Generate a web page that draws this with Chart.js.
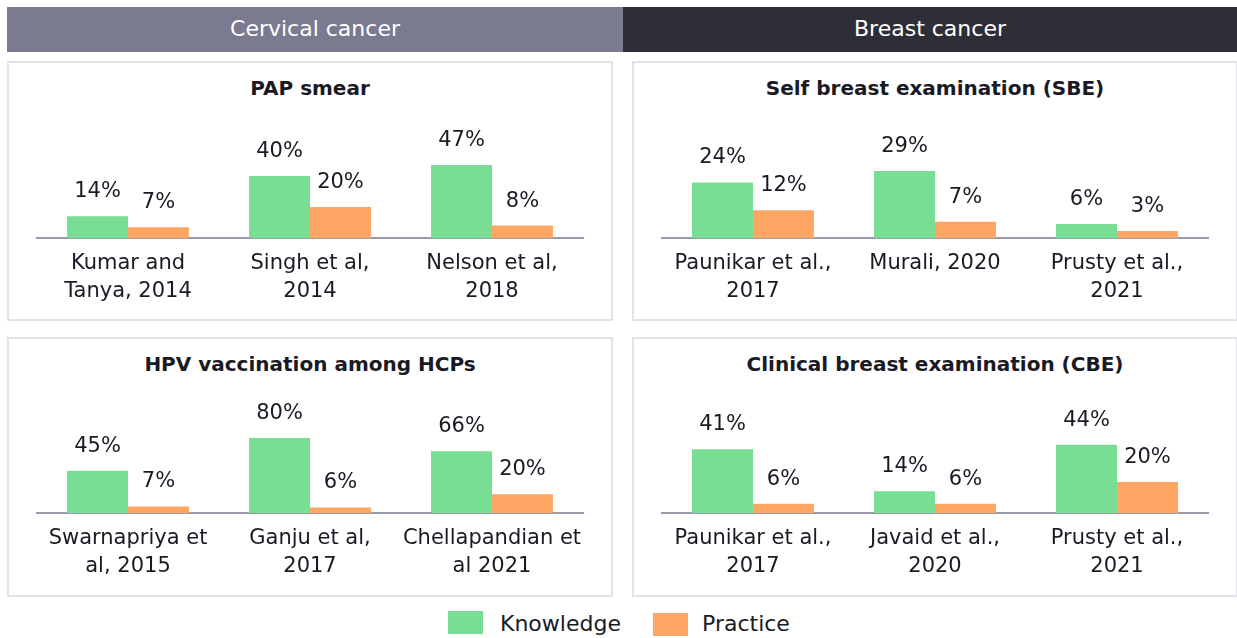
<!DOCTYPE html>
<html>
<head>
<meta charset="utf-8">
<script src="https://cdn.jsdelivr.net/npm/chart.js@4.4.0/dist/chart.umd.min.js"></script>
<style>
    body { margin: 0; width: 1237px; height: 638px; background: #fff; position: relative; overflow: hidden;
           font-family: "DejaVu Sans", sans-serif; color: #1a1a24; }
    .hdr { position: absolute; top: 7px; height: 45px; line-height: 43px; color: #fff; font-size: 22px; text-align: center; }
    .panel { position: absolute; width: 606px; height: 260px; border: 2px solid #e2e2e8; box-sizing: border-box; }
    .ttl { position: absolute; left: 0; right: 0; top: 13px; line-height: 24px; text-align: center; font-weight: bold; font-size: 20px; }
    canvas { position: absolute; }
    .sw { position: absolute; width: 35px; height: 23px; }
    .lg { position: absolute; font-size: 22px; line-height: 26px; }
</style>
</head>
<body>
<div class="hdr" style="left:7px;width:616px;background:#7a7a91;">Cervical cancer</div>
<div class="hdr" style="left:623px;width:614px;background:#2e2e38;">Breast cancer</div>

<div class="panel" style="left:7px;top:61px;"><div class="ttl" id="t0"></div></div>
<div class="panel" style="left:632px;top:61px;"><div class="ttl" id="t1"></div></div>
<div class="panel" style="left:7px;top:337px;"><div class="ttl" id="t2"></div></div>
<div class="panel" style="left:632px;top:337px;"><div class="ttl" id="t3"></div></div>

<canvas id="c0" width="606" height="208" style="left:7px;top:110px;"></canvas>
<canvas id="c1" width="606" height="208" style="left:632px;top:110px;"></canvas>
<canvas id="c2" width="606" height="208" style="left:7px;top:385px;"></canvas>
<canvas id="c3" width="606" height="208" style="left:632px;top:385px;"></canvas>

<div class="sw" style="left:448px;top:611px;background:#78de94;"></div>
<div class="lg" style="left:500px;top:611px;">Knowledge</div>
<div class="sw" style="left:653px;top:613px;background:#ffa664;"></div>
<div class="lg" style="left:702px;top:611px;">Practice</div>

<script>
// Donnees
const seriesNames = ['Knowledge', 'Practice'];
const panelTitles = ['PAP smear', 'Self breast examination (SBE)', 'HPV vaccination among HCPs', 'Clinical breast examination (CBE)'];

const papLabels = [['Kumar and', 'Tanya, 2014'], ['Singh et al,', '2014'], ['Nelson et al,', '2018']];
const papKnowledge = [14, 40, 47];
const papPractice = [7, 20, 8];

const sbeLabels = [['Paunikar et al.,', '2017'], 'Murali, 2020', ['Prusty et al.,', '2021']];
const sbeKnowledge = [24, 29, 6];
const sbePractice = [12, 7, 3];

const hpvLabels = [['Swarnapriya et', 'al, 2015'], ['Ganju et al,', '2017'], ['Chellapandian et', 'al 2021']];
const hpvKnowledge = [45, 80, 66];
const hpvPractice = [7, 6, 20];

const cbeLabels = [['Paunikar et al.,', '2017'], ['Javaid et al.,', '2020'], ['Prusty et al.,', '2021']];
const cbeKnowledge = [41, 14, 44];
const cbePractice = [6, 6, 20];

// Echelle de chaque panneau
const yMax = [76, 51, 126, 76];

const textColor = '#1a1a24';
const fontFamily = '"DejaVu Sans", sans-serif';

// Ecrit la valeur au-dessus de chaque barre
const valueLabels = {
    id: 'valueLabels',
    afterDatasetsDraw(chart) {
        const ctx = chart.ctx;
        ctx.save();
        ctx.font = '21px ' + fontFamily;
        ctx.fillStyle = textColor;
        ctx.textAlign = 'center';
        ctx.textBaseline = 'alphabetic';
        chart.data.datasets.forEach((ds, i) => {
            chart.getDatasetMeta(i).data.forEach((bar, j) => {
                ctx.fillText(ds.data[j] + '%', bar.x, bar.y - 19);
            });
        });
        ctx.restore();
    }
};

function makeChart(id, labels, knowledge, practice, max) {
    const ctx = document.getElementById(id).getContext('2d');
    return new Chart(ctx, {
        type: 'bar',
        data: {
            labels: labels,
            datasets: [
                { label: seriesNames[0], data: knowledge, backgroundColor: '#78de94', borderWidth: 0 },
                { label: seriesNames[1], data: practice, backgroundColor: '#ffa664', borderWidth: 0 }
            ]
        },
        options: {
            responsive: false,
            animation: false,
            categoryPercentage: 0.67,
            barPercentage: 1.0,
            layout: { padding: { left: 30, right: 30, top: 10, bottom: 0 } },
            plugins: { legend: { display: false }, tooltip: { enabled: false } },
            scales: {
                x: {
                    grid: { display: false, drawTicks: false },
                    border: { display: true, color: '#9a9aae', width: 2 },
                    ticks: {
                        color: textColor,
                        font: { family: fontFamily, size: 21, lineHeight: 1.35 },
                        padding: 11,
                        maxRotation: 0,
                        autoSkip: false
                    },
                    afterFit: function(scale) { scale.height = 80; }
                },
                y: { display: false, min: 0, max: max }
            }
        },
        plugins: [valueLabels]
    });
}

panelTitles.forEach((t, i) => { document.getElementById('t' + i).textContent = t; });

makeChart('c0', papLabels, papKnowledge, papPractice, yMax[0]);
makeChart('c1', sbeLabels, sbeKnowledge, sbePractice, yMax[1]);
makeChart('c2', hpvLabels, hpvKnowledge, hpvPractice, yMax[2]);
makeChart('c3', cbeLabels, cbeKnowledge, cbePractice, yMax[3]);
</script>
</body>
</html>
